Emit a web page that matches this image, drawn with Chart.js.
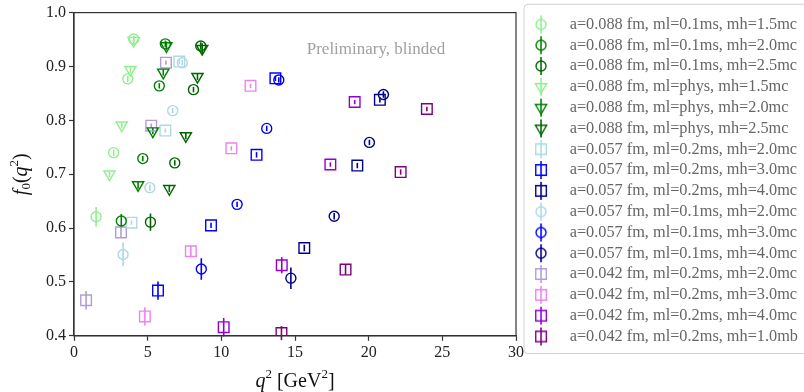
<!DOCTYPE html>
<html>
<head>
<meta charset="utf-8">
<script src="https://cdn.jsdelivr.net/npm/chart.js@4/dist/chart.umd.min.js"></script>
<style>
  html, body { margin: 0; padding: 0; background: #fff; overflow: hidden; }
  #wrap { width: 808px; height: 392px; position: relative; }
</style>
</head>
<body>
<div id="wrap"><canvas id="myChart"></canvas></div>
<script>
const seriesLabels = [
  'a=0.088 fm, ml=0.1ms, mh=1.5mc',
  'a=0.088 fm, ml=0.1ms, mh=2.0mc',
  'a=0.088 fm, ml=0.1ms, mh=2.5mc',
  'a=0.088 fm, ml=phys, mh=1.5mc',
  'a=0.088 fm, ml=phys, mh=2.0mc',
  'a=0.088 fm, ml=phys, mh=2.5mc',
  'a=0.057 fm, ml=0.2ms, mh=2.0mc',
  'a=0.057 fm, ml=0.2ms, mh=3.0mc',
  'a=0.057 fm, ml=0.2ms, mh=4.0mc',
  'a=0.057 fm, ml=0.1ms, mh=2.0mc',
  'a=0.057 fm, ml=0.1ms, mh=3.0mc',
  'a=0.057 fm, ml=0.1ms, mh=4.0mc',
  'a=0.042 fm, ml=0.2ms, mh=2.0mc',
  'a=0.042 fm, ml=0.2ms, mh=3.0mc',
  'a=0.042 fm, ml=0.2ms, mh=4.0mc',
  'a=0.042 fm, ml=0.2ms, mh=1.0mb'
];

// q^2 values per series (GeV^2)
const q2 = [
  [4.05, 3.65, 2.69, 1.50],
  [6.20, 5.79, 4.67, 3.21],
  [8.60, 8.11, 6.84, 5.19],
  [4.05, 3.83, 3.24, 2.41],
  [6.27, 6.06, 5.35, 4.35],
  [8.70, 8.38, 7.59, 6.47],
  [7.15, 6.20, 3.90],
  [13.67, 12.39, 9.30, 5.70],
  [20.76, 19.23, 15.63],
  [7.35, 6.70, 5.15, 3.33],
  [13.90, 13.08, 11.07, 8.64],
  [21.00, 20.05, 17.66, 14.72],
  [6.24, 5.24, 3.19, 0.82],
  [11.98, 10.68, 7.93, 4.81],
  [19.05, 17.40, 14.10, 10.16],
  [23.95, 22.17, 18.43, 14.08]
];

// f0(q^2) per series
const f0 = [
  [0.951, 0.877, 0.740, 0.621],
  [0.942, 0.864, 0.729, 0.613],
  [0.938, 0.857, 0.721, 0.611],
  [0.948, 0.894, 0.791, 0.700],
  [0.938, 0.889, 0.780, 0.680],
  [0.933, 0.881, 0.771, 0.673],
  [0.909, 0.781, 0.610],
  [0.878, 0.736, 0.605, 0.484],
  [0.838, 0.716, 0.563],
  [0.907, 0.818, 0.675, 0.551],
  [0.875, 0.785, 0.644, 0.524],
  [0.848, 0.759, 0.622, 0.507],
  [0.907, 0.790, 0.592, 0.466],
  [0.864, 0.748, 0.557, 0.436],
  [0.834, 0.718, 0.531, 0.416],
  [0.821, 0.704, 0.523, 0.405]
];

// errors on f0
const f0Err = [
  [0.006, 0.006, 0.006, 0.018],
  [0.006, 0.005, 0.005, 0.013],
  [0.007, 0.005, 0.005, 0.016],
  [0.008, 0.006, 0.005, 0.005],
  [0.008, 0.006, 0.006, 0.007],
  [0.010, 0.006, 0.006, 0.006],
  [0.005, 0.004, 0.004],
  [0.005, 0.005, 0.005, 0.017],
  [0.005, 0.005, 0.006],
  [0.005, 0.005, 0.006, 0.022],
  [0.005, 0.005, 0.005, 0.020],
  [0.006, 0.005, 0.006, 0.020],
  [0.004, 0.004, 0.010, 0.017],
  [0.004, 0.004, 0.010, 0.017],
  [0.004, 0.004, 0.015, 0.017],
  [0.004, 0.005, 0.010, 0.013]
];

const colors = [
  '#90ee90', '#008000', '#006400',
  '#90ee90', '#008000', '#006400',
  '#add8e6', '#0000ff', '#00008b',
  '#add8e6', '#0000ff', '#00008b',
  '#b19cd9', '#ee82ee', '#9400d3', '#800080'
];
const markers = [
  'circle', 'circle', 'circle',
  'triangle', 'triangle', 'triangle',
  'rect', 'rect', 'rect',
  'circle', 'circle', 'circle',
  'rect', 'rect', 'rect', 'rect'
];

const serif = "'Liberation Serif', 'DejaVu Serif', serif";
const markerRadius = { circle: 5, triangle: 6.5, rect: 7.5 };

function makeIcon(color, style) {
  const c = document.createElement('canvas');
  c.width = 20; c.height = 24;
  const g = c.getContext('2d');
  g.strokeStyle = color;
  g.lineWidth = 1.6;
  g.beginPath(); g.moveTo(10, 3); g.lineTo(10, 21); g.stroke();
  g.fillStyle = 'rgba(0,0,0,0)';
  g.lineWidth = 1.4;
  Chart.helpers.drawPoint(g, {
    pointStyle: style, rotation: style === 'triangle' ? 180 : 0,
    radius: markerRadius[style], borderWidth: 1.4
  }, 10, 12);
  return c;
}

const datasets = seriesLabels.map((lab, i) => ({
  label: lab,
  data: q2[i].map((x, j) => ({ x: x, y: f0[i][j] })),
  pointStyle: markers[i],
  rotation: markers[i] === 'triangle' ? 180 : 0,
  pointRadius: markerRadius[markers[i]],
  pointHoverRadius: markerRadius[markers[i]],
  borderColor: colors[i],
  backgroundColor: 'rgba(0,0,0,0)',
  pointBorderWidth: 1.4,
  showLine: false
}));

function drawPieces(ctx, pieces, x, y) {
  let w = 0;
  pieces.forEach(p => { ctx.font = p.font; w += ctx.measureText(p.t).width; });
  let cx = x - w / 2;
  pieces.forEach(p => {
    ctx.font = p.font;
    ctx.fillText(p.t, cx, y + (p.dy || 0));
    cx += ctx.measureText(p.t).width;
  });
}

const decorPlugin = {
  id: 'decor',
  beforeDatasetsDraw(chart) {
    const ctx = chart.ctx, xs = chart.scales.x, ys = chart.scales.y;
    ctx.save();
    ctx.lineWidth = 1.6;
    chart.data.datasets.forEach((ds, i) => {
      ctx.strokeStyle = colors[i];
      q2[i].forEach((x, j) => {
        const px = xs.getPixelForValue(x);
        ctx.beginPath();
        ctx.moveTo(px, ys.getPixelForValue(f0[i][j] - f0Err[i][j]));
        ctx.lineTo(px, ys.getPixelForValue(f0[i][j] + f0Err[i][j]));
        ctx.stroke();
      });
    });
    // watermark
    ctx.fillStyle = '#a0a0a0';
    ctx.font = '17px ' + serif;
    ctx.textAlign = 'center';
    ctx.textBaseline = 'middle';
    ctx.fillText('Preliminary, blinded', xs.getPixelForValue(20.5), ys.getPixelForValue(0.931));
    ctx.restore();
  },
  afterDraw(chart) {
    const ctx = chart.ctx, a = chart.chartArea, lg = chart.legend;
    ctx.save();
    // frame
    ctx.strokeStyle = '#333';
    ctx.lineWidth = 1.2;
    ctx.strokeRect(a.left, a.top, a.right - a.left, a.bottom - a.top);
    // axis titles
    ctx.fillStyle = '#111';
    ctx.textAlign = 'left';
    ctx.textBaseline = 'middle';
    drawPieces(ctx, [
      { t: 'q', font: 'italic 20px ' + serif },
      { t: '2', font: '13px ' + serif, dy: -7 },
      { t: ' [GeV', font: '20px ' + serif },
      { t: '2', font: '13px ' + serif, dy: -7 },
      { t: ']', font: '20px ' + serif }
    ], (a.left + a.right) / 2, a.bottom + 46);
    ctx.save();
    ctx.translate(a.left - 52, (a.top + a.bottom) / 2);
    ctx.rotate(-Math.PI / 2);
    drawPieces(ctx, [
      { t: 'f', font: 'italic 20px ' + serif },
      { t: '0', font: '13px ' + serif, dy: 5 },
      { t: '(', font: '20px ' + serif },
      { t: 'q', font: 'italic 20px ' + serif },
      { t: '2', font: '13px ' + serif, dy: -7 },
      { t: ')', font: '20px ' + serif }
    ], 0, 0);
    ctx.restore();
    // legend frame
    const hb = lg.legendHitBoxes;
    const top = hb[0].top - 12, bottom = hb[hb.length - 1].top + hb[hb.length - 1].height + 9;
    const left = lg.left + 8;
    ctx.beginPath();
    ctx.roundRect(left, top, chart.width - left + 10, bottom - top, 4);
    ctx.fillStyle = '#fff';
    ctx.fill();
    ctx.strokeStyle = '#d0d0d0';
    ctx.lineWidth = 1;
    ctx.stroke();
    ctx.restore();
    lg.draw();
  }
};

const ctx = document.getElementById('myChart').getContext('2d');

const myChart = new Chart(ctx, {
  type: 'scatter',
  data: { datasets: datasets },
  options: {
    responsive: true,
    maintainAspectRatio: false,
    animation: false,
    events: [],
    layout: { padding: { top: 4, left: 43, bottom: 28, right: 0 } },
    scales: {
      x: {
        type: 'linear',
        min: 0, max: 30,
        ticks: { stepSize: 5, color: '#222', font: { family: serif, size: 16 }, padding: 2 },
        grid: { drawOnChartArea: false, drawTicks: true, tickLength: 5, color: '#333', tickWidth: 1.2 },
        border: { color: '#333', width: 1.2 }
      },
      y: {
        type: 'linear',
        min: 0.4, max: 1.0,
        ticks: { stepSize: 0.1, color: '#222', font: { family: serif, size: 16 }, padding: 3,
                 callback: v => v.toFixed(1) },
        grid: { drawOnChartArea: false, drawTicks: true, tickLength: 5, color: '#333', tickWidth: 1.2 },
        border: { color: '#333', width: 1.2 }
      }
    },
    plugins: {
      tooltip: { enabled: false },
      legend: {
        position: 'right',
        align: 'start',
        maxWidth: 360,
        title: { display: true, text: ' ', font: { size: 4 }, padding: 1.5 },
        labels: {
          usePointStyle: true,
          pointStyleWidth: 41,
          color: '#262626',
          font: { family: serif, size: 16.3 },
          padding: 4.5,
          generateLabels: chart => chart.data.datasets.map((ds, i) => ({
            text: ds.label,
            pointStyle: makeIcon(colors[i], markers[i]),
            fillStyle: colors[i],
            strokeStyle: colors[i],
            lineWidth: 0,
            hidden: false,
            datasetIndex: i
          }))
        }
      }
    }
  },
  plugins: [decorPlugin]
});
</script>
</body>
</html>
